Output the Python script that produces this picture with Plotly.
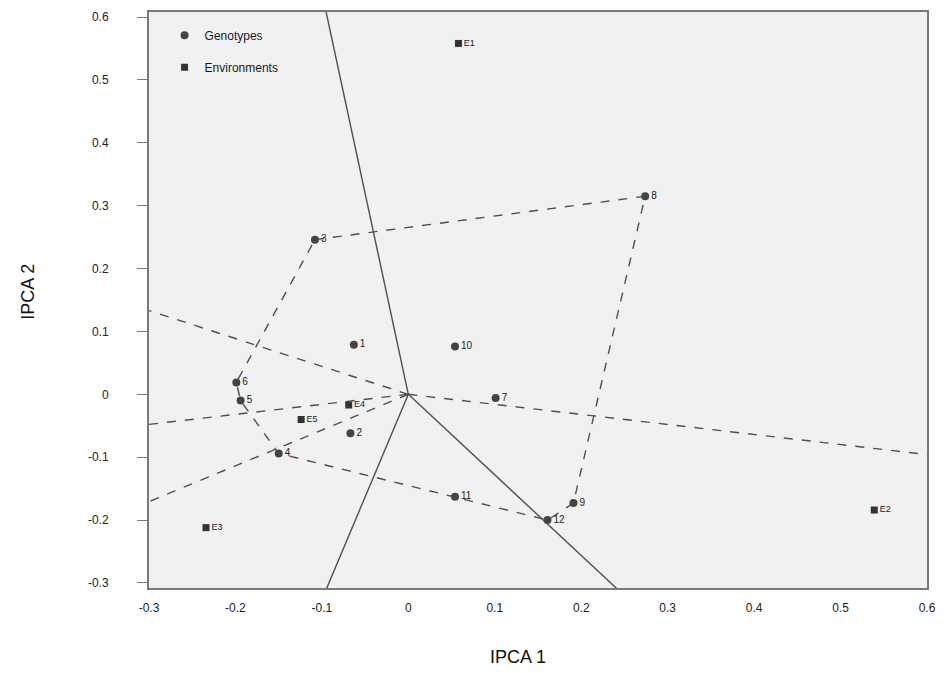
import plotly.graph_objects as go

# Genotype scores (IPCA 1, IPCA 2)
geno_names = ["1", "2", "3", "4", "5", "6", "7", "8", "9", "10", "11", "12"]
geno_x = [-0.063, -0.067, -0.108, -0.150, -0.194, -0.199, 0.101, 0.274, 0.191, 0.054, 0.054, 0.161]
geno_y = [0.079, -0.062, 0.246, -0.094, -0.010, 0.019, -0.006, 0.315, -0.173, 0.076, -0.163, -0.200]

# Environment scores (IPCA 1, IPCA 2)
env_names = ["E1", "E2", "E3", "E4", "E5"]
env_x = [0.058, 0.539, -0.234, -0.069, -0.124]
env_y = [0.558, -0.184, -0.212, -0.017, -0.040]

# Vertex genotypes of the polygon, in drawing order
hull_order = ["3", "8", "9", "12", "4", "5", "6", "3"]

# Rays from the origin, perpendicular to the polygon sides (end points)
ray_x = [-0.097, -0.320, -0.320, -0.320, -0.098, 0.242, 0.620]
ray_y = [0.620, 0.142, -0.051, -0.182, -0.320, -0.310, -0.099]
ray_dash = ["solid", "dash", "dash", "dash", "solid", "solid", "dash"]

x_ticks = [-0.3, -0.2, -0.1, 0, 0.1, 0.2, 0.3, 0.4, 0.5, 0.6]
y_ticks = [-0.3, -0.2, -0.1, 0, 0.1, 0.2, 0.3, 0.4, 0.5, 0.6]

line_col = "#4f4f4f"
font_family = "Liberation Sans, Arial, sans-serif"

fig = go.Figure()

# polygon joining the outermost genotypes
idx = {n: i for i, n in enumerate(geno_names)}
fig.add_trace(go.Scatter(
    x=[geno_x[idx[n]] for n in hull_order],
    y=[geno_y[idx[n]] for n in hull_order],
    mode="lines", line=dict(color=line_col, width=1.4, dash="dash"),
    showlegend=False, hoverinfo="skip"))

# rays
for rx, ry, rd in zip(ray_x, ray_y, ray_dash):
    fig.add_trace(go.Scatter(
        x=[0, rx], y=[0, ry], mode="lines",
        line=dict(color=line_col, width=1.4, dash=rd),
        showlegend=False, hoverinfo="skip"))

# genotypes
fig.add_trace(go.Scatter(
    x=geno_x, y=geno_y, mode="markers+text", name="Genotypes",
    text=geno_names, textposition="middle right",
    textfont=dict(size=10, color="#222", family=font_family),
    marker=dict(symbol="circle", size=8, color="#444"),
    legendgroup="g"))

# environments
fig.add_trace(go.Scatter(
    x=env_x, y=env_y, mode="markers+text", name="Environments",
    text=env_names, textposition="middle right",
    textfont=dict(size=9, color="#222", family=font_family),
    marker=dict(symbol="square", size=7, color="#333"),
    legendgroup="e"))

fig.update_layout(
    width=946, height=673,
    margin=dict(l=149, r=15, t=10, b=85),
    paper_bgcolor="white",
    plot_bgcolor="#f1f1f1",
    font=dict(family=font_family, color="#333"),
    showlegend=True,
    legend=dict(x=0.02, y=0.985, xanchor="left", yanchor="top",
                bgcolor="rgba(0,0,0,0)", tracegroupgap=13,
                font=dict(size=12, color="#1a1a1a", family=font_family)),
    xaxis=dict(range=[-0.3, 0.6], tickvals=x_ticks,
               ticktext=[f"{v:g}" for v in x_ticks],
               showgrid=False, zeroline=False,
               showline=True, linecolor="#7a7a7a", linewidth=2, mirror=True,
               ticks="outside", ticklen=8, tickcolor="rgba(0,0,0,0)",
               tickfont=dict(size=12, color="#222")),
    yaxis=dict(range=[-0.308, 0.608], tickvals=y_ticks,
               ticktext=[f"{v:g}" for v in y_ticks],
               showgrid=False, zeroline=False,
               showline=True, linecolor="#7a7a7a", linewidth=2, mirror=True,
               ticks="outside", ticklen=10, tickcolor="#7a7a7a",
               ticklabelstandoff=26,
               tickfont=dict(size=12, color="#222")),
    annotations=[
        dict(text="IPCA 1", xref="paper", yref="paper", x=0.474, y=-0.12,
             xanchor="center", yanchor="middle", showarrow=False,
             font=dict(size=18, color="#111", family=font_family)),
        dict(text="IPCA 2", xref="paper", yref="paper", x=-0.155, y=0.515,
             xanchor="center", yanchor="middle", showarrow=False, textangle=-90,
             font=dict(size=18, color="#111", family=font_family)),
    ],
)

fig.write_html("out.html")
